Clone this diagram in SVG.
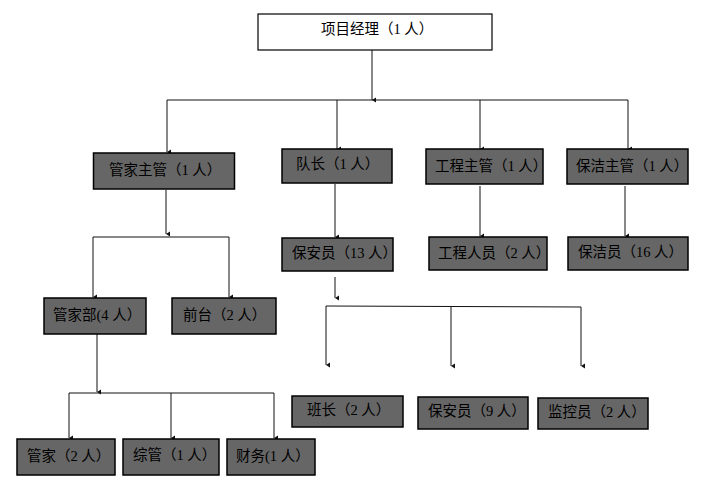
<svg xmlns="http://www.w3.org/2000/svg" width="725" height="490" viewBox="0 0 725 490">
<style>
.box{fill:#666666;stroke:#000;stroke-width:1.5}
.top{fill:#fff;stroke:#000;stroke-width:1.2}
.t{font-family:"Liberation Serif","Noto Sans CJK SC",serif;font-size:14.5px;fill:#000}
.c{fill:none;stroke:#111;stroke-width:1}
</style>
<defs>
<marker id="ah" markerWidth="6" markerHeight="6" refX="3" refY="5" orient="auto" markerUnits="userSpaceOnUse" viewBox="0 0 6 6">
<path d="M0.5,1 L5.5,1 L3,5 Z" fill="#111"/>
</marker>
</defs>
<rect width="725" height="490" fill="#fff"/>
<g id="connectors">
<path class="c" d="M372,50 V100" marker-end="url(#ah)"/>
<path class="c" d="M167,100 H628"/>
<path class="c" d="M167,100 V152" marker-end="url(#ah)"/>
<path class="c" d="M337,100 V149" marker-end="url(#ah)"/>
<path class="c" d="M480,100 V149" marker-end="url(#ah)"/>
<path class="c" d="M628,100 V149" marker-end="url(#ah)"/>
<path class="c" d="M166,190 V234" marker-end="url(#ah)"/>
<path class="c" d="M93,237 H229"/>
<path class="c" d="M93,237 V297" marker-end="url(#ah)"/>
<path class="c" d="M229,237 V297" marker-end="url(#ah)"/>
<path class="c" d="M97,334 V392" marker-end="url(#ah)"/>
<path class="c" d="M69,393 H274"/>
<path class="c" d="M69,393 V438" marker-end="url(#ah)"/>
<path class="c" d="M171,393 V438" marker-end="url(#ah)"/>
<path class="c" d="M274,393 V438" marker-end="url(#ah)"/>
<path class="c" d="M335,184 V237" marker-end="url(#ah)"/>
<path class="c" d="M480,186 V236" marker-end="url(#ah)"/>
<path class="c" d="M625,186 V236" marker-end="url(#ah)"/>
<path class="c" d="M335,277 V298" marker-end="url(#ah)"/>
<path class="c" d="M326,306 L581,307"/>
<path class="c" d="M326,306 V365" marker-end="url(#ah)"/>
<path class="c" d="M451,306 V366" marker-end="url(#ah)"/>
<path class="c" d="M581,307 V366" marker-end="url(#ah)"/>
</g>
<g id="n-pm"><rect class="top" x="258" y="14" width="234" height="36"/><text class="t" x="321" y="34">项目经理（1 人）</text></g>
<g id="n-gjzg"><rect class="box" x="93.5" y="153" width="141" height="36"/><text class="t" x="109" y="175">管家主管（1 人）</text></g>
<g id="n-dz"><rect class="box" x="282" y="149" width="110" height="34"/><text class="t" x="296" y="169">队长（1 人）</text></g>
<g id="n-gczg"><rect class="box" x="426" y="149" width="117" height="35"/><text class="t" x="435" y="171">工程主管（1 人）</text></g>
<g id="n-bjzg"><rect class="box" x="567" y="149" width="121" height="35"/><text class="t" x="576" y="171">保洁主管（1 人）</text></g>
<g id="n-gjb"><rect class="box" x="44" y="298" width="102" height="36"/><text class="t" x="53" y="320">管家部(4 人）</text></g>
<g id="n-qt"><rect class="box" x="172" y="298" width="104" height="36"/><text class="t" x="183" y="320">前台（2 人）</text></g>
<g id="n-bay13"><rect class="box" x="282" y="238" width="111" height="33"/><text class="t" x="292" y="258">保安员（13 人）</text></g>
<g id="n-gcry"><rect class="box" x="429" y="237" width="118" height="33"/><text class="t" x="438" y="258">工程人员（2 人）</text></g>
<g id="n-bjy"><rect class="box" x="568" y="237" width="120" height="33"/><text class="t" x="578" y="257">保洁员（16 人）</text></g>
<g id="n-gj"><rect class="box" x="17" y="439" width="98" height="36"/><text class="t" x="27" y="461">管家（2 人）</text></g>
<g id="n-zg"><rect class="box" x="123" y="439" width="96" height="36"/><text class="t" x="133" y="460">综管（1 人）</text></g>
<g id="n-cw"><rect class="box" x="227" y="439" width="88" height="36"/><text class="t" x="236" y="461">财务(1 人）</text></g>
<g id="n-bz"><rect class="box" x="292" y="396" width="111" height="31"/><text class="t" x="307" y="415">班长（2 人）</text></g>
<g id="n-bay9"><rect class="box" x="418" y="397" width="110" height="32"/><text class="t" x="428" y="416">保安员（9 人）</text></g>
<g id="n-jky"><rect class="box" x="538" y="398" width="110" height="31"/><text class="t" x="548" y="417">监控员（2 人）</text></g>
</svg>
